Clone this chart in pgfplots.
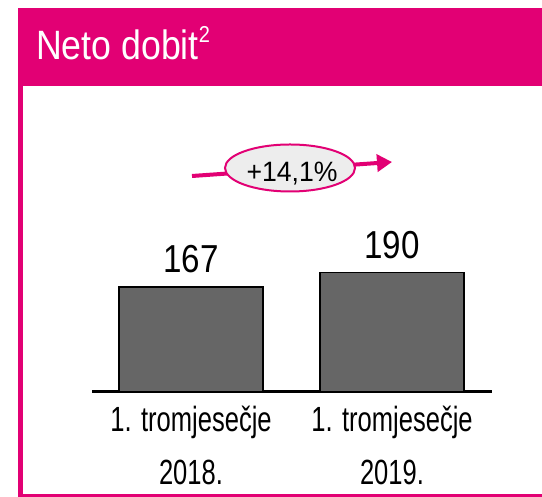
\documentclass[border=0pt]{standalone}
\usepackage{pgfplots}
\pgfplotsset{compat=1.18}
\usepackage{fontspec}
\setmainfont{Liberation Sans}
\newfontfamily\catfont[FakeStretch=0.73]{Liberation Sans}
\newfontfamily\numfont[FakeStretch=0.85]{Liberation Sans}
\newfontfamily\titlefont[FakeStretch=0.87]{Liberation Sans}
\newfontfamily\pctfont[FakeStretch=0.95]{Liberation Sans}
\usetikzlibrary{arrows.meta}
\definecolor{tpink}{HTML}{E20074}
\definecolor{barfill}{HTML}{666666}
\definecolor{ellfill}{HTML}{EDEDED}
\begin{document}
\begin{tikzpicture}[x=1bp,y=1bp]
\useasboundingbox (0,0) rectangle (542,497);
\fill[white] (0,0) rectangle (542,497);
% frame
\fill[tpink] (18,411) rectangle (542,489);
\fill[tpink] (18,0) rectangle (22.5,411);
\fill[tpink] (18,0) rectangle (542,3);
\node[anchor=base west, inner sep=0pt, text=white, font=\titlefont\fontsize{41bp}{41bp}\selectfont] at (36,437) {Neto dobit\raisebox{17bp}{\fontsize{23bp}{23bp}\selectfont 2}};
% growth arrow
\draw[tpink, line width=4bp, -{Triangle[length=15bp,width=17bp]}] (192,321) -- (392,335);
\draw[tpink, line width=2bp, fill=ellfill] (290,329) ellipse [x radius=65, y radius=23.5];
\node[anchor=base, inner sep=0pt, font=\pctfont\fontsize{28bp}{28bp}\selectfont] at (292,315) {+14,1\%};
\begin{axis}[
  at={(92bp,105bp)}, anchor=south west,
  scale only axis, width=400bp, height=189bp,
  xmin=-0.4925, xmax=1.4975, ymin=0, ymax=300,
  axis x line=bottom, axis y line=none,
  x axis line style={-, line width=3bp, black},
  xtick={0,1},
  xticklabels={{1. tromjesečje\\2018.},{1. tromjesečje\\2019.}},
  major tick length=0pt,
  xticklabel style={align=center, anchor=north, inner sep=0pt, yshift=-14bp,
    font=\catfont\fontsize{35bp}{53bp}\selectfont},
  ytick=\empty,
  /pgf/number format/assume math mode=true,
  ybar, bar width=144bp,
  nodes near coords,
  every node near coord/.append style={anchor=south, inner sep=0pt, yshift=13bp,
    font=\numfont\fontsize{39bp}{39bp}\selectfont, text=black},
  clip=false,
]
\addplot[fill=barfill, draw=black, line width=1.5bp] coordinates {(0,167) (1,190)};
\end{axis}
\end{tikzpicture}
\end{document}
